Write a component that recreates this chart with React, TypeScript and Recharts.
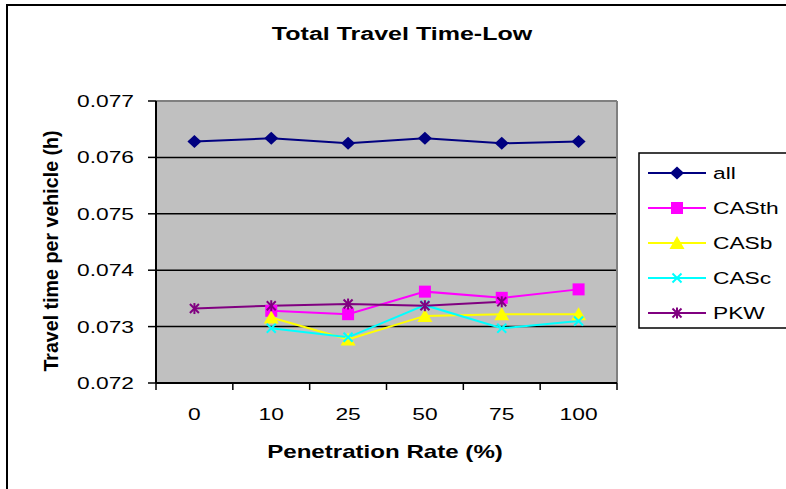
import React from "react";
import {
  LineChart,
  Line,
  XAxis,
  YAxis,
  CartesianGrid,
  ReferenceLine,
} from "recharts";

// penetration rate categories (%)
const categories = ["0", "10", "25", "50", "75", "100"];

// travel time per vehicle (h)
const allValues = [0.07628, 0.07634, 0.07625, 0.07634, 0.07625, 0.07628];
const casthValues = [null, 0.07328, 0.07322, 0.07362, 0.07351, 0.07366];
const casbValues = [null, 0.07316, 0.07277, 0.07319, 0.07322, 0.07322];
const cascValues = [null, 0.07297, 0.07281, 0.07338, 0.07297, 0.0731];
const pkwValues = [0.07332, 0.07337, 0.0734, 0.07337, 0.07344, null];

const yTicks = [0.072, 0.073, 0.074, 0.075, 0.076, 0.077];

const series = [
  { key: "all", name: "all", color: "#000080", marker: "diamond", values: allValues },
  { key: "casth", name: "CASth", color: "#FF00FF", marker: "square", values: casthValues },
  { key: "casb", name: "CASb", color: "#FFFF00", marker: "triangle", values: casbValues },
  { key: "casc", name: "CASc", color: "#00FFFF", marker: "cross", values: cascValues },
  { key: "pkw", name: "PKW", color: "#800080", marker: "star", values: pkwValues },
];

const data = categories.map((label, i) => {
  const row: Record<string, any> = { pos: i + 0.5, label };
  series.forEach((s) => {
    row[s.key] = s.values[i];
  });
  return row;
});

const xTicks: number[] = [];
for (let i = 0; i <= categories.length * 2; i++) xTicks.push(i / 2);

const FONT = "'Liberation Sans', Arial, sans-serif";
const STRETCH = 1.34;

function Marker({ type, cx, cy, color }: { type: string; cx: number; cy: number; color: string }) {
  if (type === "diamond") {
    return (
      <polygon
        points={`${cx},${cy - 6.5} ${cx + 7},${cy} ${cx},${cy + 6.5} ${cx - 7},${cy}`}
        fill={color}
      />
    );
  }
  if (type === "square") {
    return <rect x={cx - 6} y={cy - 6} width={12} height={12} fill={color} />;
  }
  if (type === "triangle") {
    return (
      <polygon
        points={`${cx},${cy - 7} ${cx + 7.5},${cy + 6} ${cx - 7.5},${cy + 6}`}
        fill={color}
      />
    );
  }
  if (type === "cross") {
    return (
      <g stroke={color} strokeWidth={2}>
        <line x1={cx - 4.5} y1={cy - 4.5} x2={cx + 4.5} y2={cy + 4.5} />
        <line x1={cx - 4.5} y1={cy + 4.5} x2={cx + 4.5} y2={cy - 4.5} />
      </g>
    );
  }
  return (
    <g stroke={color} strokeWidth={2}>
      <line x1={cx - 4.5} y1={cy - 4.5} x2={cx + 4.5} y2={cy + 4.5} />
      <line x1={cx - 4.5} y1={cy + 4.5} x2={cx + 4.5} y2={cy - 4.5} />
      <line x1={cx} y1={cy - 5.5} x2={cx} y2={cy + 5.5} />
    </g>
  );
}

function makeDot(type: string, color: string) {
  return (props: any) => {
    const { cx, cy, index } = props;
    if (cx == null || cy == null || Number.isNaN(cy)) return <g key={`e-${index}`} />;
    return (
      <g key={`d-${index}`}>
        <Marker type={type} cx={cx} cy={cy} color={color} />
      </g>
    );
  };
}

function StretchText({ x, y, children, anchor = "middle", size = 17, bold = false, stretch = STRETCH }: any) {
  return (
    <text
      transform={`translate(${x} ${y}) scale(${stretch} 1)`}
      textAnchor={anchor}
      fontFamily={FONT}
      fontSize={size}
      fontWeight={bold ? "bold" : "normal"}
      fill="#000"
    >
      {children}
    </text>
  );
}

// category labels sit between the boundary tick marks
function XTick(props: any) {
  const { x, y, payload } = props;
  const v = payload.value;
  if (Number.isInteger(v)) {
    return <line x1={x} y1={y} x2={x} y2={y + 7} stroke="#000" strokeWidth={1.5} />;
  }
  return (
    <StretchText x={x} y={y + 37}>
      {categories[Math.floor(v)]}
    </StretchText>
  );
}

function YTick(props: any) {
  const { x, y, payload } = props;
  return (
    <StretchText x={x} y={y + 6} anchor="end">
      {Number(payload.value).toFixed(3)}
    </StretchText>
  );
}

function LegendBox() {
  return (
    <g>
      <rect x={639} y={153} width={170} height={175} fill="#fff" stroke="#000" strokeWidth={1.5} />
      {series.map((s, i) => {
        const y = 173 + i * 35;
        return (
          <g key={s.key}>
            <line x1={648} y1={y} x2={706} y2={y} stroke={s.color} strokeWidth={2} />
            <Marker type={s.marker} cx={677} cy={y} color={s.color} />
            <StretchText x={713} y={y + 6} anchor="start">
              {s.name}
            </StretchText>
          </g>
        );
      })}
    </g>
  );
}

export default function App() {
  return (
    <div
      style={{
        position: "absolute",
        left: 0,
        top: 0,
        width: 786,
        height: 489,
        background: "#fff",
        overflow: "hidden",
      }}
    >
      <LineChart
        width={786}
        height={489}
        data={data}
        margin={{ top: 101, right: 169, bottom: 76, left: 0 }}
      >
        <CartesianGrid vertical={false} stroke="#000" strokeWidth={1.5} fill="#C0C0C0" />
        <XAxis
          dataKey="pos"
          type="number"
          domain={[0, 6]}
          ticks={xTicks}
          interval={0}
          height={30}
          tickLine={false}
          tickSize={0}
          tickMargin={0}
          tick={<XTick />}
          axisLine={{ stroke: "#000", strokeWidth: 2 }}
        />
        <YAxis
          type="number"
          domain={[0.072, 0.077]}
          ticks={yTicks}
          interval={0}
          width={156}
          tickSize={8}
          tickMargin={14}
          tick={<YTick />}
          tickLine={{ stroke: "#000", strokeWidth: 1.5 }}
          axisLine={{ stroke: "#000", strokeWidth: 2 }}
        />
        <ReferenceLine y={0.077} stroke="#808080" strokeWidth={2} />
        <ReferenceLine x={6} stroke="#808080" strokeWidth={2} />
        {series.map((s) => (
          <Line
            key={s.key}
            dataKey={s.key}
            name={s.name}
            type="linear"
            stroke={s.color}
            strokeWidth={2}
            dot={makeDot(s.marker, s.color)}
            activeDot={false}
            isAnimationActive={false}
          />
        ))}
      </LineChart>
      <svg
        width={786}
        height={489}
        style={{ position: "absolute", left: 0, top: 0, pointerEvents: "none" }}
      >
        <rect x={7} y={5} width={800} height={500} fill="none" stroke="#000" strokeWidth={2} />
        <StretchText x={402} y={40} size={18} bold stretch={1.39}>
          Total Travel Time-Low
        </StretchText>
        <StretchText x={385} y={458} size={18} bold>
          Penetration Rate (%)
        </StretchText>
        <text
          transform="translate(58 251) rotate(-90) scale(1.31 1.37)"
          textAnchor="middle"
          fontFamily={FONT}
          fontSize={15}
          fontWeight="bold"
          fill="#000"
        >
          Travel time per vehicle (h)
        </text>
        <LegendBox />
      </svg>
    </div>
  );
}
